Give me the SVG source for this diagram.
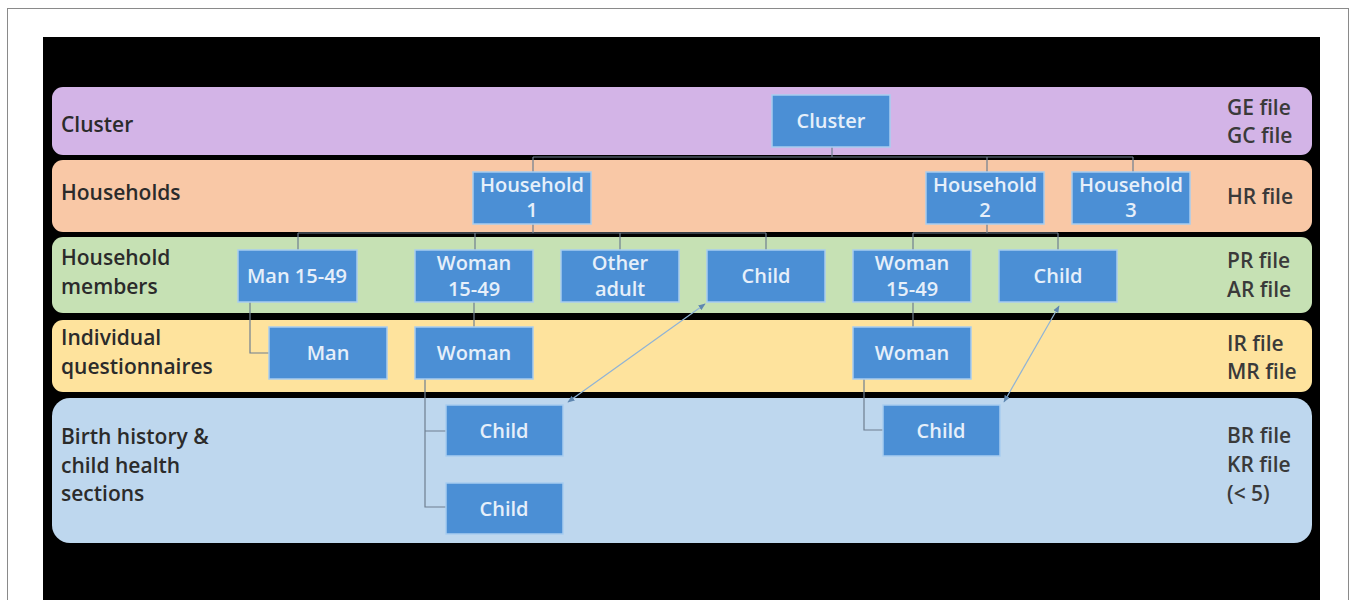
<svg xmlns="http://www.w3.org/2000/svg" width="1357" height="600" viewBox="0 0 1357 600">
<style>
.lbl{font-family:"Open Sans","Liberation Sans",Arial,sans-serif;font-size:21px;font-weight:600;fill:#2b2b2b}
.rl{font-family:"Open Sans","Liberation Sans",Arial,sans-serif;font-size:21px;font-weight:600;fill:#3a3a3a}
.node rect{fill:#4b8fd5;stroke:#a8cdef;stroke-width:1.5}
.node text{font-family:"Open Sans","Liberation Sans",Arial,sans-serif;font-size:20px;font-weight:600;fill:#e6effa;text-anchor:middle}
.conn{fill:none;stroke:#6f7f90;stroke-width:1.2}
.diag{fill:none;stroke:#8fb3d6;stroke-width:1.2;marker-end:url(#ah);marker-start:url(#ah)}
</style>
<defs>
<marker id="ah" viewBox="0 0 10 10" refX="9" refY="5" markerWidth="6" markerHeight="6" orient="auto-start-reverse"><path d="M0,1 L10,5 L0,9 z" fill="#5f87b0"/></marker>
</defs>
<rect x="0" y="0" width="1357" height="600" fill="#ffffff"/>
<rect x="7.5" y="8.5" width="1341" height="600" fill="none" stroke="#8a8a8a" stroke-width="1"/>
<rect x="43" y="37" width="1277" height="563" fill="#000000"/>

<g id="bands">
<rect x="52" y="87" width="1260" height="68" rx="11" fill="#d3b4e7"/>
<rect x="52" y="160" width="1260" height="72" rx="11" fill="#f9c8a6"/>
<rect x="52" y="237" width="1260" height="76" rx="11" fill="#c6e1b4"/>
<rect x="52" y="320" width="1260" height="72" rx="11" fill="#fee39d"/>
<rect x="52" y="398" width="1260" height="145" rx="18" fill="#bed7ee"/>
</g>

<g id="labels">
<text class="lbl" x="61" y="132">Cluster</text>
<text class="lbl" x="61" y="200">Households</text>
<text class="lbl" x="61" y="265">Household</text>
<text class="lbl" x="61" y="294">members</text>
<text class="lbl" x="61" y="345">Individual</text>
<text class="lbl" x="61" y="374">questionnaires</text>
<text class="lbl" x="61" y="444">Birth history &amp;</text>
<text class="lbl" x="61" y="473">child health</text>
<text class="lbl" x="61" y="501">sections</text>
<text class="rl" x="1227" y="115">GE file</text>
<text class="rl" x="1227" y="143">GC file</text>
<text class="rl" x="1227" y="204">HR file</text>
<text class="rl" x="1227" y="268">PR file</text>
<text class="rl" x="1227" y="297">AR file</text>
<text class="rl" x="1227" y="351">IR file</text>
<text class="rl" x="1227" y="379">MR file</text>
<text class="rl" x="1227" y="443">BR file</text>
<text class="rl" x="1227" y="472">KR file</text>
<text class="rl" x="1227" y="501">(&lt; 5)</text>
</g>

<g id="connectors">
<path class="conn" d="M832,147 V157 M533,157 H1133 M533,157 V172 M987,157 V172 M1133,157 V172"/>
<path class="conn" d="M533,224 V233 M298,233 H766 M298,233 V250 M475,233 V250 M620,233 V250 M766,233 V250"/>
<path class="conn" d="M987,224 V233 M913,233 H1058 M913,233 V250 M1058,233 V250"/>
<path class="conn" d="M250,302 V353 H269"/>
<path class="conn" d="M474,302 V327"/>
<path class="conn" d="M913,302 V327"/>
<path class="conn" d="M425,379 V507 H446 M425,431 H446"/>
<path class="conn" d="M864,379 V430 H883"/>
<path class="diag" d="M568,402 L705,304"/>
<path class="diag" d="M1004,402 L1059,306"/>
</g>

<g id="n-cluster" class="node"><rect x="772" y="95" width="118" height="52"/><text x="831" y="128">Cluster</text></g>
<g id="n-hh1" class="node"><rect x="473" y="172" width="118" height="52"/><text x="532" y="192">Household</text><text x="532" y="217">1</text></g>
<g id="n-hh2" class="node"><rect x="926" y="172" width="118" height="52"/><text x="985" y="192">Household</text><text x="985" y="217">2</text></g>
<g id="n-hh3" class="node"><rect x="1072" y="172" width="118" height="52"/><text x="1131" y="192">Household</text><text x="1131" y="217">3</text></g>
<g id="n-man1549" class="node"><rect x="238" y="250" width="119" height="52"/><text x="297" y="283">Man 15-49</text></g>
<g id="n-woman1549a" class="node"><rect x="415" y="250" width="118" height="52"/><text x="474" y="270">Woman</text><text x="474" y="296">15-49</text></g>
<g id="n-otheradult" class="node"><rect x="561" y="250" width="118" height="52"/><text x="620" y="270">Other</text><text x="620" y="296">adult</text></g>
<g id="n-childa" class="node"><rect x="707" y="250" width="118" height="52"/><text x="766" y="283">Child</text></g>
<g id="n-woman1549b" class="node"><rect x="853" y="250" width="118" height="52"/><text x="912" y="270">Woman</text><text x="912" y="296">15-49</text></g>
<g id="n-childb" class="node"><rect x="999" y="250" width="118" height="52"/><text x="1058" y="283">Child</text></g>
<g id="n-man" class="node"><rect x="269" y="327" width="118" height="52"/><text x="328" y="360">Man</text></g>
<g id="n-womana" class="node"><rect x="415" y="327" width="118" height="52"/><text x="474" y="360">Woman</text></g>
<g id="n-womanb" class="node"><rect x="853" y="327" width="118" height="52"/><text x="912" y="360">Woman</text></g>
<g id="n-bh-child1" class="node"><rect x="446" y="405" width="117" height="51"/><text x="504" y="438">Child</text></g>
<g id="n-bh-child2" class="node"><rect x="446" y="483" width="117" height="51"/><text x="504" y="516">Child</text></g>
<g id="n-bh-child3" class="node"><rect x="883" y="405" width="117" height="51"/><text x="941" y="438">Child</text></g>
</svg>
